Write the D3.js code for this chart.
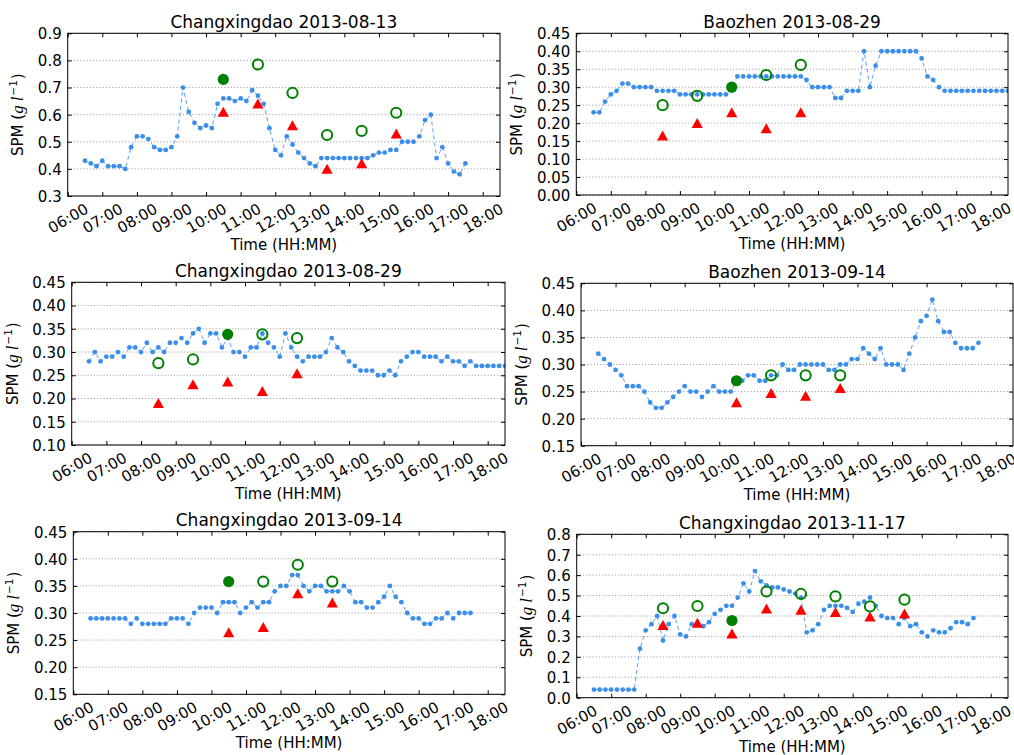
<!DOCTYPE html>
<html>
<head>
<meta charset="utf-8">
<script src="https://cdn.jsdelivr.net/npm/d3@7"></script>
<style>
  body { margin: 0; background: #fff; }
  svg { display: block; }
  text { font-family: "DejaVu Sans", sans-serif; fill: #000; }
</style>
</head>
<body>
<svg id="chart" width="1014" height="755"></svg>
<script>
// ---- Data -----------------------------------------------------------------
// Sampling times of the continuous SPM record (10-minute records).
const sampleTimes = [
  "06:30","06:40","06:50",
  "07:00","07:10","07:20","07:30","07:40","07:50",
  "08:00","08:10","08:20","08:30","08:40","08:50",
  "09:00","09:10","09:20","09:30","09:40","09:50",
  "10:00","10:10","10:20","10:30","10:40","10:50",
  "11:00","11:10","11:20","11:30","11:40","11:50",
  "12:00","12:10","12:20","12:30","12:40","12:50",
  "13:00","13:10","13:20","13:30","13:40","13:50",
  "14:00","14:10","14:20","14:30","14:40","14:50",
  "15:00","15:10","15:20","15:30","15:40","15:50",
  "16:00","16:10","16:20","16:30","16:40","16:50",
  "17:00","17:10","17:20","17:30","17:40","17:50",
  "18:00","18:10","18:20","18:30"
];

const hourTicks = ["06:00","07:00","08:00","09:00","10:00","11:00","12:00",
                   "13:00","14:00","15:00","16:00","17:00","18:00"];

const panelTitles = [
  "Changxingdao 2013-08-13", "Baozhen 2013-08-29",
  "Changxingdao 2013-08-29", "Baozhen 2013-09-14",
  "Changxingdao 2013-09-14", "Changxingdao 2013-11-17"
];

// Continuous SPM series (g/l), one value per sample time
const spmCXD0813 = [
  0.43,0.42,0.41,0.43,0.41,0.41,0.41,0.40,0.48,0.52,
  0.52,0.51,0.48,0.47,0.47,0.48,0.52,0.70,0.61,0.57,
  0.55,0.56,0.55,0.64,0.66,0.66,0.65,0.66,0.65,0.69,
  0.67,0.64,0.55,0.47,0.45,0.52,0.49,0.46,0.44,0.42,
  0.41,0.44,0.44,0.44,0.44,0.44,0.44,0.44,0.44,0.44,
  0.45,0.46,0.46,0.47,0.47,0.50,0.50,0.50,0.52,0.58,
  0.60,0.44,0.48,0.42,0.39,0.38,0.42
];
const spmBZ0829 = [
  0.23,0.23,0.26,0.28,0.29,0.31,0.31,0.30,0.30,0.30,
  0.30,0.29,0.29,0.29,0.29,0.28,0.28,0.28,0.28,0.28,
  0.28,0.28,0.28,0.28,0.30,0.33,0.33,0.33,0.33,0.33,
  0.33,0.33,0.33,0.33,0.33,0.33,0.33,0.32,0.30,0.30,
  0.30,0.30,0.27,0.27,0.29,0.29,0.29,0.40,0.30,0.36,
  0.40,0.40,0.40,0.40,0.40,0.40,0.40,0.38,0.33,0.32,
  0.30,0.29,0.29,0.29,0.29,0.29,0.29,0.29,0.29,0.29,
  0.29,0.29,0.29
];
const spmCXD0829 = [
  0.28,0.30,0.28,0.29,0.29,0.30,0.29,0.31,0.31,0.30,
  0.32,0.30,0.31,0.30,0.32,0.32,0.33,0.32,0.34,0.35,
  0.32,0.34,0.34,0.31,0.33,0.30,0.30,0.29,0.31,0.31,
  0.34,0.32,0.31,0.29,0.34,0.31,0.29,0.28,0.29,0.29,
  0.29,0.30,0.33,0.31,0.30,0.28,0.27,0.26,0.26,0.26,
  0.25,0.25,0.26,0.25,0.28,0.29,0.30,0.30,0.29,0.29,
  0.29,0.28,0.29,0.28,0.28,0.27,0.28,0.27,0.27,0.27,
  0.27,0.27,0.27
];
const spmBZ0914 = [
  0.32,0.31,0.30,0.29,0.28,0.26,0.26,0.26,0.25,0.23,
  0.22,0.22,0.23,0.24,0.25,0.26,0.25,0.25,0.24,0.25,
  0.26,0.25,0.25,0.25,0.27,0.27,0.28,0.28,0.27,0.27,
  0.28,0.28,0.30,0.29,0.29,0.30,0.30,0.30,0.30,0.30,
  0.29,0.29,0.30,0.30,0.31,0.31,0.33,0.32,0.31,0.33,
  0.30,0.30,0.30,0.29,0.32,0.35,0.38,0.39,0.42,0.38,
  0.36,0.36,0.34,0.33,0.33,0.33,0.34
];
const spmCXD0914 = [
  0.29,0.29,0.29,0.29,0.29,0.29,0.29,0.28,0.29,0.28,
  0.28,0.28,0.28,0.28,0.29,0.29,0.29,0.28,0.30,0.31,
  0.31,0.31,0.30,0.32,0.32,0.32,0.30,0.31,0.32,0.31,
  0.32,0.32,0.34,0.35,0.35,0.37,0.37,0.35,0.34,0.35,
  0.35,0.34,0.34,0.34,0.35,0.34,0.32,0.32,0.31,0.31,
  0.32,0.33,0.35,0.33,0.32,0.30,0.29,0.29,0.28,0.28,
  0.29,0.29,0.30,0.29,0.30,0.30,0.30
];
const spmCXD1117 = [
  0.04,0.04,0.04,0.04,0.04,0.04,0.04,0.04,0.24,0.33,
  0.36,0.40,0.28,0.36,0.40,0.31,0.30,0.36,0.36,0.35,
  0.37,0.41,0.43,0.45,0.45,0.49,0.56,0.52,0.62,0.57,
  0.55,0.54,0.54,0.53,0.52,0.51,0.49,0.32,0.33,0.36,
  0.43,0.45,0.45,0.45,0.44,0.42,0.46,0.47,0.49,0.45,
  0.40,0.39,0.39,0.36,0.39,0.35,0.36,0.32,0.30,0.33,
  0.32,0.32,0.34,0.37,0.37,0.36,0.39
];

// Hourly estimates (red triangles)
const triTimesCXD0813 = ["10:30","11:30","12:30","13:30","14:30","15:30"];
const triCXD0813 = [0.61,0.64,0.56,0.40,0.42,0.53];
const triTimesBZ0829 = ["08:30","09:30","10:30","11:30","12:30"];
const triBZ0829 = [0.165,0.20,0.23,0.185,0.23];
const triTimesCXD0829 = ["08:30","09:30","10:30","11:30","12:30"];
const triCXD0829 = [0.19,0.23,0.236,0.216,0.254];
const triTimesBZ0914 = ["10:30","11:30","12:30","13:30"];
const triBZ0914 = [0.23,0.247,0.242,0.256];
const triTimesCXD0914 = ["10:30","11:30","12:30","13:30"];
const triCXD0914 = [0.264,0.274,0.336,0.319];
const triTimesCXD1117 = ["08:30","09:30","10:30","11:30","12:30","13:30","14:30","15:30"];
const triCXD1117 = [0.355,0.366,0.313,0.436,0.43,0.418,0.397,0.411];

// Filled green circle (10:30 on every day)
const filledTime = "10:30";
const filledValues = [0.73, 0.30, 0.338, 0.27, 0.358, 0.378];

// Open green circles
const openTimesCXD0813 = ["11:30","12:30","13:30","14:30","15:30"];
const openCXD0813 = [0.785,0.68,0.525,0.54,0.607];
const openTimesBZ0829 = ["08:30","09:30","11:30","12:30"];
const openBZ0829 = [0.25,0.276,0.334,0.362];
const openTimesCXD0829 = ["08:30","09:30","11:30","12:30"];
const openCXD0829 = [0.276,0.284,0.338,0.33];
const openTimesBZ0914 = ["11:30","12:30","13:30"];
const openBZ0914 = [0.28,0.28,0.28];
const openTimesCXD0914 = ["11:30","12:30","13:30"];
const openCXD0914 = [0.358,0.389,0.358];
const openTimesCXD1117 = ["08:30","09:30","11:30","12:30","13:30","14:30","15:30"];
const openCXD1117 = [0.438,0.449,0.52,0.508,0.496,0.447,0.48];

// Y axis ticks for each panel
const yTicksA = [0.3,0.4,0.5,0.6,0.7,0.8,0.9];
const yTicksB = [0.00,0.05,0.10,0.15,0.20,0.25,0.30,0.35,0.40,0.45];
const yTicksC = [0.10,0.15,0.20,0.25,0.30,0.35,0.40,0.45];
const yTicksD = [0.15,0.20,0.25,0.30,0.35,0.40,0.45];
const yTicksF = [0.0,0.1,0.2,0.3,0.4,0.5,0.6,0.7,0.8];

// ---- Layout ---------------------------------------------------------------
const panels = [
  { box: {x0: 67.7, x1: 500,  y0: 33.3,  y1: 196},   spm: spmCXD0813, triT: triTimesCXD0813, tri: triCXD0813, openT: openTimesCXD0813, open: openCXD0813, yTicks: yTicksA, dec: 1 },
  { box: {x0: 576.3, x1: 1008, y0: 33.3, y1: 195},   spm: spmBZ0829,  triT: triTimesBZ0829,  tri: triBZ0829,  openT: openTimesBZ0829,  open: openBZ0829,  yTicks: yTicksB, dec: 2 },
  { box: {x0: 71.7, x1: 505,  y0: 282.3, y1: 445},   spm: spmCXD0829, triT: triTimesCXD0829, tri: triCXD0829, openT: openTimesCXD0829, open: openCXD0829, yTicks: yTicksC, dec: 2 },
  { box: {x0: 581,  x1: 1013, y0: 283.3, y1: 445.7}, spm: spmBZ0914,  triT: triTimesBZ0914,  tri: triBZ0914,  openT: openTimesBZ0914,  open: openBZ0914,  yTicks: yTicksD, dec: 2 },
  { box: {x0: 73.3, x1: 505,  y0: 531.7, y1: 694.3}, spm: spmCXD0914, triT: triTimesCXD0914, tri: triCXD0914, openT: openTimesCXD0914, open: openCXD0914, yTicks: yTicksD, dec: 2 },
  { box: {x0: 576.7, x1: 1008, y0: 534.3, y1: 697.7}, spm: spmCXD1117, triT: triTimesCXD1117, tri: triCXD1117, openT: openTimesCXD1117, open: openCXD1117, yTicks: yTicksF, dec: 1 }
];

const BLUE = "#3b8eea";
const GREEN = "#008000";
const RED = "#ff0000";

const toMin = s => { const [h, m] = s.split(":").map(Number); return h * 60 + m; };

const svg = d3.select("#chart");

function styleAxis(g) {
  g.attr("font-size", 15).attr("font-family", "DejaVu Sans, sans-serif");
  g.select(".domain").remove();
  g.selectAll(".tick line").attr("stroke", "#000").attr("stroke-width", 1);
}

panels.forEach((p, i) => {
  const b = p.box;
  const g = svg.append("g");
  const x = d3.scaleLinear().domain([toMin("06:00"), toMin("18:30")]).range([b.x0, b.x1]);
  const y = d3.scaleLinear().domain([p.yTicks[0], p.yTicks[p.yTicks.length - 1]]).range([b.y1, b.y0]);

  // horizontal dotted grid
  g.append("g").selectAll("line").data(p.yTicks).join("line")
    .attr("x1", b.x0).attr("x2", b.x1)
    .attr("y1", d => y(d)).attr("y2", d => y(d))
    .attr("stroke", "#7a7a7a").attr("stroke-width", 0.8)
    .attr("stroke-dasharray", "1,2.2");

  // clip to plotting area
  const clipId = "clip" + i;
  svg.append("clipPath").attr("id", clipId).append("rect")
    .attr("x", b.x0).attr("y", b.y0).attr("width", b.x1 - b.x0).attr("height", b.y1 - b.y0);
  const plot = g.append("g").attr("clip-path", `url(#${clipId})`);

  const series = p.spm.map((v, k) => ({ t: toMin(sampleTimes[k]), v }));
  const line = d3.line().x(d => x(d.t)).y(d => y(d.v));
  plot.append("path").datum(series)
    .attr("d", line).attr("fill", "none")
    .attr("stroke", BLUE).attr("stroke-width", 1)
    .attr("stroke-dasharray", "4,3").attr("opacity", 0.85);
  plot.append("g").selectAll("circle").data(series).join("circle")
    .attr("cx", d => x(d.t)).attr("cy", d => y(d.v)).attr("r", 2.4)
    .attr("fill", BLUE);

  // red triangles
  const tri = p.tri.map((v, k) => ({ t: toMin(p.triT[k]), v }));
  plot.append("g").selectAll("path").data(tri).join("path")
    .attr("transform", d => `translate(${x(d.t)},${y(d.v)})`)
    .attr("d", "M0,-5.2L5.6,4.8L-5.6,4.8Z")
    .attr("fill", RED);

  // filled green circle
  plot.append("circle")
    .attr("cx", x(toMin(filledTime))).attr("cy", y(filledValues[i])).attr("r", 5.6)
    .attr("fill", GREEN);

  // open green circles
  const open = p.open.map((v, k) => ({ t: toMin(p.openT[k]), v }));
  plot.append("g").selectAll("circle").data(open).join("circle")
    .attr("cx", d => x(d.t)).attr("cy", d => y(d.v)).attr("r", 5.1)
    .attr("fill", "none").attr("stroke", GREEN).attr("stroke-width", 2);

  // axes (inward ticks on all four sides)
  const hourVals = hourTicks.map(toMin);
  const fmtY = d3.format("." + p.dec + "f");

  const xb = g.append("g").attr("transform", `translate(0,${b.y1})`)
    .call(d3.axisBottom(x).tickValues(hourVals).tickFormat((d, k) => hourTicks[k])
      .tickSizeInner(-4).tickSizeOuter(0));
  styleAxis(xb);
  xb.selectAll(".tick text")
    .attr("y", null).attr("dy", null)
    .attr("text-anchor", "middle").attr("dominant-baseline", "central")
    .attr("transform", "translate(0,22.5) rotate(-30)");

  const xt = g.append("g").attr("transform", `translate(0,${b.y0})`)
    .call(d3.axisTop(x).tickValues(hourVals).tickFormat("").tickSizeInner(-4).tickSizeOuter(0));
  styleAxis(xt);

  const yl = g.append("g").attr("transform", `translate(${b.x0},0)`)
    .call(d3.axisLeft(y).tickValues(p.yTicks).tickFormat(fmtY)
      .tickSizeInner(-4).tickSizeOuter(0).tickPadding(6));
  styleAxis(yl);
  yl.selectAll(".tick text").attr("dy", "0.36em");

  const yr = g.append("g").attr("transform", `translate(${b.x1},0)`)
    .call(d3.axisRight(y).tickValues(p.yTicks).tickFormat("").tickSizeInner(-4).tickSizeOuter(0));
  styleAxis(yr);

  // frame
  g.append("rect")
    .attr("x", b.x0).attr("y", b.y0).attr("width", b.x1 - b.x0).attr("height", b.y1 - b.y0)
    .attr("fill", "none").attr("stroke", "#000").attr("stroke-width", 1);

  // title
  g.append("text")
    .attr("x", (b.x0 + b.x1) / 2).attr("y", b.y0 - 5.5)
    .attr("text-anchor", "middle").attr("font-size", 17)
    .text(panelTitles[i]);

  // x label
  g.append("text")
    .attr("x", (b.x0 + b.x1) / 2).attr("y", b.y1 + 54)
    .attr("text-anchor", "middle").attr("font-size", 15)
    .text("Time (HH:MM)");

  // y label: SPM (g l^-1)
  const off = p.dec === 1 ? 45 : 54;
  const lab = g.append("text")
    .attr("transform", `translate(${b.x0 - off},${(b.y0 + b.y1) / 2}) rotate(-90)`)
    .attr("text-anchor", "middle").attr("font-size", 15);
  lab.append("tspan").text("SPM (");
  lab.append("tspan").attr("font-family", "Liberation Serif, serif").attr("font-style", "italic")
    .attr("font-size", 17).text("g");
  lab.append("tspan").attr("font-family", "Liberation Serif, serif").attr("font-style", "italic")
    .attr("font-size", 17).attr("dx", 4).text("l");
  lab.append("tspan").attr("font-size", 10.5).attr("dy", -6).attr("dx", 1).text("\u22121");
  lab.append("tspan").attr("dy", 6).attr("dx", 1).text(")");
});
</script>
</body>
</html>
